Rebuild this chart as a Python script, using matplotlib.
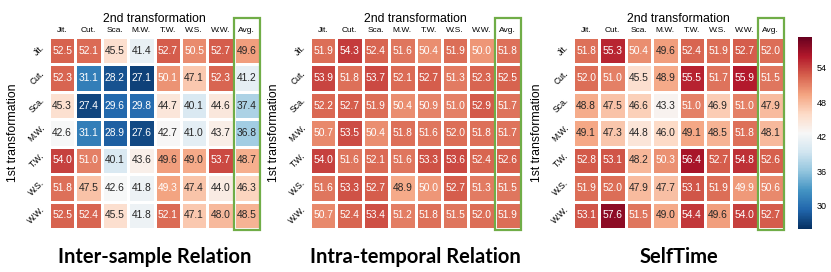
import matplotlib
matplotlib.use("Agg")
import matplotlib.pyplot as plt
import numpy as np
import seaborn as sns
from matplotlib.patches import Rectangle

col_labels = ["Jit.", "Cut.", "Sca.", "M.W.", "T.W.", "W.S.", "W.W.", "Avg."]
row_labels = ["Jit.", "Cut.", "Sca.", "M.W.", "T.W.", "W.S.", "W.W."]
titles = ["Inter-sample Relation", "Intra-temporal Relation", "SelfTime"]

inter_sample = [
    [52.5, 52.1, 45.5, 41.4, 52.7, 50.5, 52.7, 49.6],
    [52.3, 31.1, 28.2, 27.1, 50.1, 47.1, 52.3, 41.2],
    [45.3, 27.4, 29.6, 29.8, 44.7, 40.1, 44.6, 37.4],
    [42.6, 31.1, 28.9, 27.6, 42.7, 41.0, 43.7, 36.8],
    [54.0, 51.0, 40.1, 43.6, 49.6, 49.0, 53.7, 48.7],
    [51.8, 47.5, 42.6, 41.8, 49.3, 47.4, 44.0, 46.3],
    [52.5, 52.4, 45.5, 41.8, 52.1, 47.1, 48.0, 48.5],
]
intra_temporal = [
    [51.9, 54.3, 52.4, 51.6, 50.4, 51.9, 50.0, 51.8],
    [53.9, 51.8, 53.7, 52.1, 52.7, 51.3, 52.3, 52.5],
    [52.2, 52.7, 51.9, 50.4, 50.9, 51.0, 52.9, 51.7],
    [50.7, 53.5, 50.4, 51.8, 51.6, 52.0, 51.8, 51.7],
    [54.0, 51.6, 52.1, 51.6, 53.3, 53.6, 52.4, 52.6],
    [51.6, 53.3, 52.7, 48.9, 50.0, 52.7, 51.3, 51.5],
    [50.7, 52.4, 53.4, 51.2, 51.8, 51.5, 52.0, 51.9],
]
selftime = [
    [51.8, 55.3, 50.4, 49.6, 52.4, 51.9, 52.7, 52.0],
    [52.0, 51.0, 45.5, 48.9, 55.5, 51.7, 55.9, 51.5],
    [48.8, 47.5, 46.6, 43.3, 51.0, 46.9, 51.0, 47.9],
    [49.1, 47.3, 44.8, 46.0, 49.1, 48.5, 51.8, 48.1],
    [52.8, 53.1, 48.2, 50.3, 56.4, 52.7, 54.8, 52.6],
    [51.9, 52.0, 47.9, 47.7, 53.1, 51.9, 49.9, 50.6],
    [53.1, 57.6, 51.5, 49.0, 54.4, 49.6, 54.0, 52.7],
]
datasets = [inter_sample, intra_temporal, selftime]

# cells whose label is printed white although the value is below the cut
white_extra = {(0, 5, 4)}

plt.rcParams['font.family'] = ['Liberation Sans', 'DejaVu Sans']

fig = plt.figure(figsize=(8.31, 2.72), dpi=100)
lefts = [0.059, 0.373, 0.6895]
bottom, height, width = 0.158, 0.706, 0.254
cax = fig.add_axes([0.960, bottom, 0.017, height])

for i, data in enumerate(datasets):
    arr = np.array(data)
    ax = fig.add_axes([lefts[i], bottom, width, height])
    sns.heatmap(arr, ax=ax, cmap="RdBu_r", vmin=26.0, vmax=59.3,
                annot=True, fmt=".1f", annot_kws={"size": 7.4},
                linewidths=1.0, linecolor="white",
                xticklabels=col_labels, yticklabels=row_labels,
                cbar=(i == 2), cbar_ax=cax if i == 2 else None)
    # text colour: white on dark cells
    for t in ax.texts:
        x, y = t.get_position()
        r, c = int(y), int(x)
        v = arr[r, c]
        white = v >= 49.8 or v <= 33 or (i, r, c) in white_extra
        t.set_color("white" if white else "#262626")
    ax.xaxis.tick_top()
    ax.xaxis.set_label_position("top")
    ax.tick_params(axis="both", length=0, pad=2)
    ax.set_xticklabels(col_labels, fontsize=6, rotation=0)
    ax.set_yticklabels(row_labels, fontsize=6.2, rotation=45, va="center")
    ax.set_xlabel("2nd transformation", fontsize=8.8, labelpad=3.5)
    ax.set_ylabel("1st transformation", fontsize=8.8, labelpad=5)
    ax.add_patch(Rectangle((7.0, -0.68), 1.0, 7.72, fill=False,
                           edgecolor="#70ad47", linewidth=1.6, clip_on=False))
    fig.text(lefts[i] + width / 2, 0.055, titles[i], ha="center", va="center",
             fontsize=14.5, fontweight="bold", family=["Lato", "DejaVu Sans"])

cax.tick_params(labelsize=6.5, length=0)
cax.set_yticks([30, 36, 42, 48, 54])

fig.savefig("out.png", dpi=100)
